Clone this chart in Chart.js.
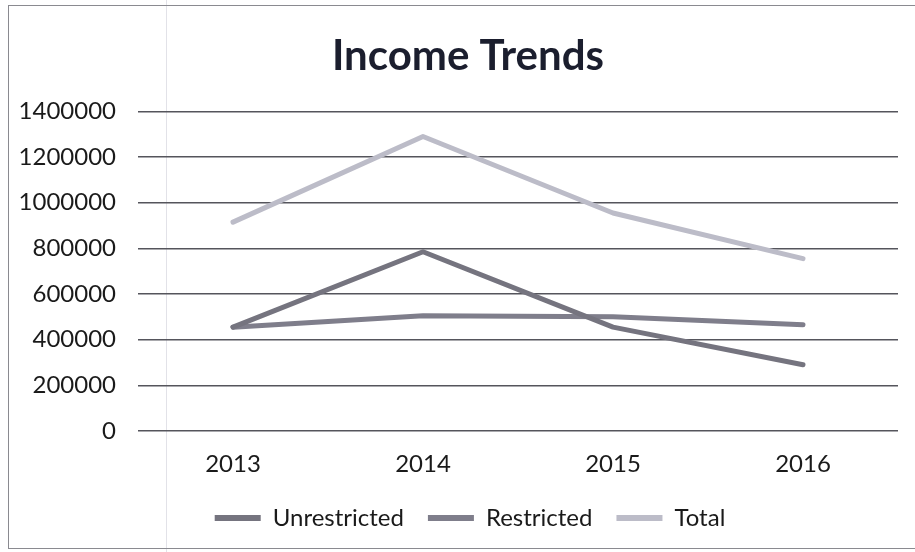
<!DOCTYPE html>
<html>
<head>
<meta charset="utf-8">
<script src="https://cdn.jsdelivr.net/npm/chart.js@4/dist/chart.umd.min.js"></script>
<style>
  html, body { margin: 0; padding: 0; background: #fff; overflow: hidden; }
  body { width: 915px; height: 552px; position: relative; }
  .frame {
    position: absolute; left: 8px; top: 5px; width: 920px; height: 544px;
    border: 1.5px solid #8a8a90; box-sizing: border-box;
  }
  .fold { position: absolute; left: 166px; top: 0; width: 1px; height: 552px; background: #e2e2e8; }
  .chart-box { position: absolute; left: 8px; top: 5px; width: 907px; height: 543px; }
</style>
</head>
<body>
<div class="fold"></div>
<div class="frame"></div>
<div class="chart-box"><canvas id="chart"></canvas></div>
<script>
const years = ["2013", "2014", "2015", "2016"];
const unrestricted = [455000, 785000, 455000, 290000];
const restricted = [455000, 505000, 500000, 465000];
const total = [915000, 1290000, 955000, 755000];
const yTicks = [0, 200000, 400000, 600000, 800000, 1000000, 1200000, 1400000];

const seriesLine = (label, data, color) => ({
  label,
  data,
  borderColor: color,
  backgroundColor: color,
  borderWidth: 5,
  pointRadius: 0,
  tension: 0,
  borderCapStyle: "round",
  borderJoinStyle: "round"
});

// title and legend sit a bit right of the canvas centre in the original
const nudgeBlocks = {
  id: "nudgeBlocks",
  afterLayout(chart) {
    chart.titleBlock.left += 15;
    chart.titleBlock.right += 15;
    chart.legend.left += 17;
    chart.legend.right += 17;
  }
};

let chart = new Chart(document.getElementById("chart"), {
  type: "line",
  data: {
    labels: years,
    datasets: [
      seriesLine("Unrestricted", unrestricted, "#75747f"),
      seriesLine("Restricted", restricted, "#7f7e8b"),
      seriesLine("Total", total, "#bcbcc8")
    ]
  },
  plugins: [nudgeBlocks],
  options: {
    responsive: true,
    maintainAspectRatio: false,
    animation: false,
    layout: { padding: { left: 0, right: 17, top: 0, bottom: 8 } },
    plugins: {
      tooltip: { enabled: false },
      title: {
        display: true,
        text: "Income Trends",
        color: "#1b1e2e",
        font: { family: "Lato", size: 42, weight: "bold" },
        padding: { top: 26, bottom: 30 }
      },
      legend: {
        position: "bottom",
        labels: {
          color: "#1a1a1a",
          font: { family: "Lato", size: 24 },
          boxWidth: 46,
          boxHeight: 6,
          padding: 24,
          generateLabels: (c) => Chart.defaults.plugins.legend.labels.generateLabels(c)
            .map(item => ({ ...item, lineWidth: 0 }))
        }
      }
    },
    scales: {
      x: {
        offset: true,
        grid: { display: false, drawTicks: false },
        border: { display: false },
        ticks: { color: "#1a1a1a", font: { family: "Lato", size: 24 }, padding: 19 },
        afterFit: (scale) => { scale.height = 51; }
      },
      y: {
        min: 0,
        max: 1400000,
        afterBuildTicks: (scale) => { scale.ticks = yTicks.map(v => ({ value: v })); },
        grid: { color: "#55555c", lineWidth: 1.5, drawTicks: false },
        border: { display: false },
        ticks: {
          color: "#1a1a1a",
          font: { family: "Lato", size: 24 },
          padding: 22,
          callback: (v) => String(v)
        },
        afterFit: (scale) => { scale.width = 130; }
      }
    }
  }
});
</script>
</body>
</html>
